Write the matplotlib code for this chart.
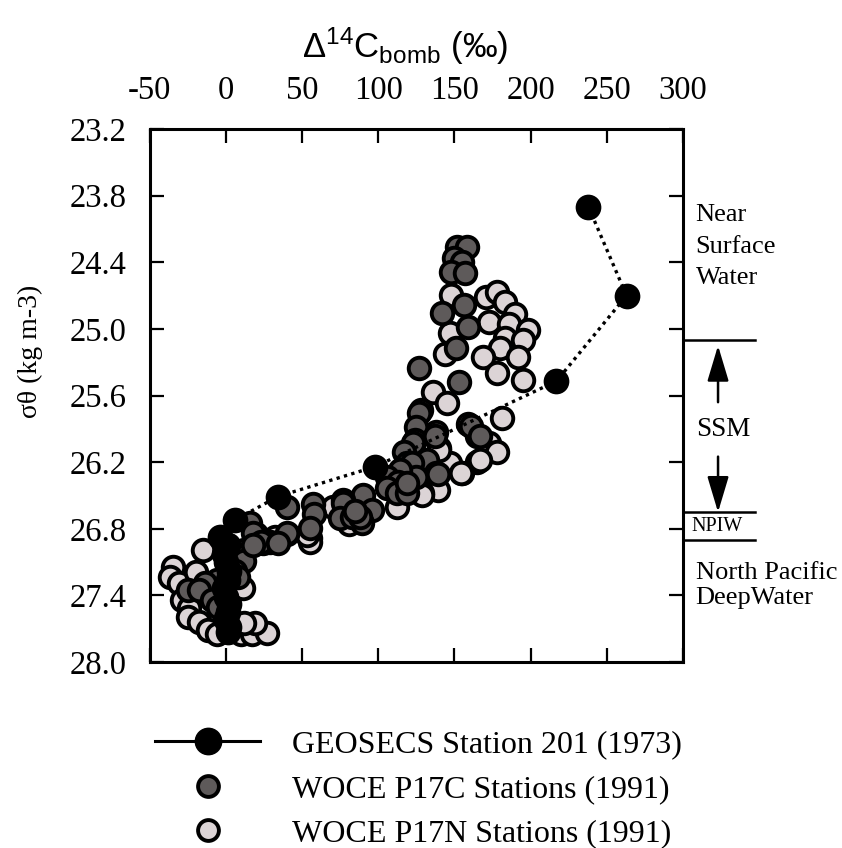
import matplotlib
matplotlib.use('Agg')
import matplotlib.pyplot as plt
from matplotlib.lines import Line2D
from matplotlib.transforms import blended_transform_factory

plt.rcParams['font.family'] = ['Liberation Serif', 'DejaVu Serif']
plt.rcParams['mathtext.fontset'] = 'custom'
plt.rcParams['mathtext.rm'] = 'Liberation Sans'
plt.rcParams['mathtext.it'] = 'Liberation Sans:italic'

# GEOSECS Station 201 (1973)
geo_x = [238, 263, 217, 98, 34, 6, -4, 1, -1, 0, 2, 1, -1, 0, 2, 1, 0, 2, 1]
geo_sig = [23.90, 24.70, 25.47, 26.24, 26.51, 26.72, 26.87, 26.95, 27.03, 27.10,
           27.18, 27.26, 27.33, 27.41, 27.48, 27.55, 27.62, 27.68, 27.73]

# WOCE P17C (1991)
p17c_x = [152, 158, 150, 155, 148, 157, 156, 142, 159, 151, 127, 153, 128, 138,
          165, 161, 167, 127, 125, 124, 137, 123, 117, 132, 119, 122, 138, 139,
          125, 114, 106, 113, 106, 112, 119, 119, 90, 96, 89, 77, 77, 75, 83, 88,
          57, 58, 55, 40, 40, 20, 24, 16, 18, 23, 40, 34, 12, 12, 6, -6, -14,
          -25, -18, -9, 8, -5, 0, 18, 85]
p17c_sig = [24.26, 24.26, 24.36, 24.40, 24.49, 24.50, 24.78, 24.86, 24.98, 25.17,
            25.35, 25.48, 25.73, 25.93, 25.96, 25.87, 25.96, 25.76, 25.88, 26.00,
            25.96, 26.03, 26.11, 26.18, 26.21, 26.21, 26.30, 26.31, 26.33, 26.27,
            26.33, 26.38, 26.43, 26.48, 26.48, 26.39, 26.50, 26.63, 26.75, 26.54,
            26.57, 26.70, 26.69, 26.69, 26.58, 26.67, 26.79, 26.60, 26.85, 26.85,
            26.93, 26.75, 26.84, 26.92, 26.84, 26.93, 26.99, 27.09, 27.18, 27.26,
            27.29, 27.35, 27.35, 27.44, 27.23, 27.50, 27.60, 26.95, 26.64]

# WOCE P17N (1991)
p17n_x = [148, 171, 178, 183, 190, 173, 186, 198, 147, 183, 195, 180, 169, 192,
          144, 178, 195, 136, 145, 181, 159, 173, 178, 165, 155, 140, 147, 140,
          154, 167, 139, 129, 129, 112, 81, 70, 55, 55, 53, -15, -35, -37, -31,
          -20, 11, -29, -24, -25, -18, -12, -6, 10, 17, 27, 19, 12, 32, 29]
p17n_sig = [24.69, 24.71, 24.67, 24.76, 24.87, 24.94, 24.96, 25.01, 25.04, 25.08,
            25.10, 25.17, 25.25, 25.25, 25.23, 25.40, 25.46, 25.57, 25.67, 25.80,
            25.86, 26.03, 26.11, 26.20, 26.30, 26.07, 26.21, 26.09, 26.30, 26.18,
            26.45, 26.48, 26.50, 26.60, 26.76, 26.60, 26.88, 26.92, 26.86, 26.99,
            27.14, 27.23, 27.29, 27.19, 27.33, 27.44, 27.51, 27.59, 27.64, 27.71,
            27.75, 27.75, 27.75, 27.74, 27.65, 27.65, 26.87, 26.92]

x_ticks = [-50, 0, 50, 100, 150, 200, 250, 300]
y_ticks = [23.2, 23.8, 24.4, 25.0, 25.6, 26.2, 26.8, 27.4, 28.0]

# water mass boundaries (sigma-theta)
bounds = [25.1, 26.65, 26.9]

dark = '#5e5a5a'
light = '#dcd4d6'

fig = plt.figure(figsize=(8.42, 8.48), dpi=100)
ax = fig.add_axes([0.178, 0.2193, 0.633, 0.6285])

ax.plot(p17n_x, p17n_sig, 'o', ms=15.5, mfc=light, mec='black', mew=2.8, zorder=2)
ax.plot(p17c_x, p17c_sig, 'o', ms=15.5, mfc=dark, mec='black', mew=2.8, zorder=3)
ax.plot(geo_x, geo_sig, color='black', lw=2.4, ls=(0, (1, 1.3)), zorder=4)
ax.plot(geo_x, geo_sig, 'o', ms=17, mfc='black', mec='black', mew=1.5, zorder=5)

ax.set_xlim(-50, 300)
ax.set_ylim(28.0, 23.2)
ax.set_xticks(x_ticks)
ax.set_xticklabels([str(v) for v in x_ticks])
ax.set_yticks(y_ticks)
ax.set_yticklabels(['%.1f' % v for v in y_ticks])
ax.tick_params(direction='in', length=10, width=1.6, labelsize=23.5, pad=16.5,
               top=True, bottom=True, left=True, right=True,
               labeltop=True, labelbottom=False)
for s in ax.spines.values():
    s.set_linewidth(2.2)

fig.text(405 / 842, 1 - 46 / 848, r'$\Delta^{14}\mathrm{C}_{\mathrm{bomb}}$ (‰)',
         family=['Liberation Sans', 'DejaVu Sans'], fontsize=25, ha='center', va='center')
fig.text(30 / 842, 1 - 351 / 848, 'σθ (kg m-3)', rotation=90, fontsize=20,
         ha='center', va='center')

# right side annotations
tr = blended_transform_factory(ax.transAxes, ax.transData)
for b in bounds:
    ax.plot([1.0, 1.135], [b, b], color='black', lw=1.8, transform=tr, clip_on=False)
ax.text(1.024, 23.97, 'Near', transform=tr, fontsize=19, va='center')
ax.text(1.024, 24.26, 'Surface', transform=tr, fontsize=19, va='center')
ax.text(1.024, 24.54, 'Water', transform=tr, fontsize=19, va='center')
ax.text(1.024, 25.91, 'SSM', transform=tr, fontsize=19.5, va='center')
ax.text(1.016, 26.78, 'NPIW', transform=tr, fontsize=14.5, va='center')
ax.text(1.024, 27.20, 'North Pacific', transform=tr, fontsize=19, va='center')
ax.text(1.024, 27.42, 'DeepWater', transform=tr, fontsize=19, va='center')
arr = dict(arrowstyle='-|>,head_length=1.0,head_width=0.3', color='black', lw=1.8,
           mutation_scale=22, shrinkA=0, shrinkB=0)
ax.annotate('', xy=(1.066, 25.15), xytext=(1.066, 25.66), xycoords=tr,
            textcoords=tr, arrowprops=arr, annotation_clip=False)
ax.annotate('', xy=(1.066, 26.65), xytext=(1.066, 26.15), xycoords=tr,
            textcoords=tr, arrowprops=arr, annotation_clip=False)

handles = [
    Line2D([], [], color='black', lw=2.2, marker='o', ms=19, mfc='black', mec='black'),
    Line2D([], [], ls='none', marker='o', ms=15, mfc=dark, mec='black', mew=2.8),
    Line2D([], [], ls='none', marker='o', ms=15, mfc=light, mec='black', mew=2.8),
]
labels = ['GEOSECS Station 201 (1973)', 'WOCE P17C Stations (1991)',
          'WOCE P17N Stations (1991)']
fig.legend(handles, labels, loc='upper left', bbox_to_anchor=(155 / 842, 1 - 730 / 848),
           frameon=False, fontsize=23, handlelength=3.3, handletextpad=1.0,
           labelspacing=0.47, borderpad=0, borderaxespad=0)

fig.savefig('out.png', dpi=100)
